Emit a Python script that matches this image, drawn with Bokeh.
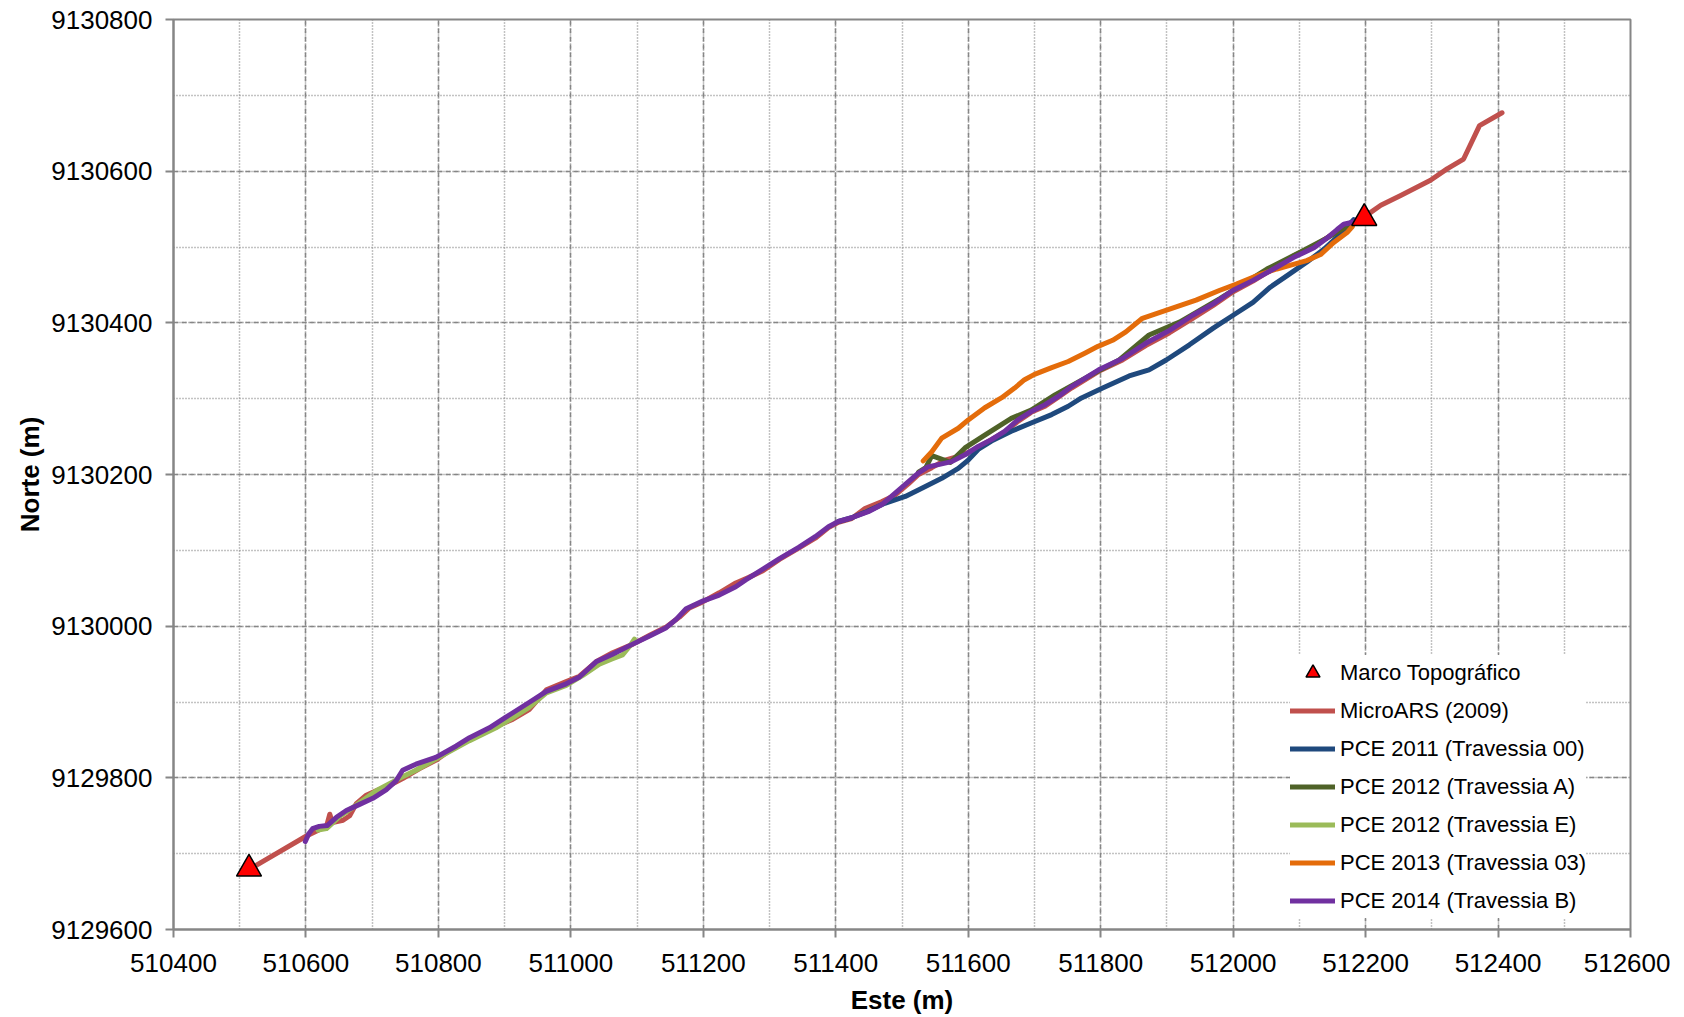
from bokeh.plotting import figure
from bokeh.models import (Range1d, SingleIntervalTicker, BasicTickFormatter,
                          Legend, LegendItem)
from bokeh.embed import file_html
from bokeh.resources import INLINE

# ---------------- data ----------------
marco_e = [510514, 512198]
marco_n = [9129680, 9130538]

microars_e = [510514, 510600, 510631, 510636, 510640, 510656, 510666, 510676, 510691, 510706,
              510726, 510746, 510771, 510796, 510817, 510847, 510882, 510912, 510937, 510963,
              510993, 511013, 511038, 511063, 511093, 511119, 511144, 511164, 511179, 511199,
              511224, 511249, 511268, 511290, 511315, 511344, 511369, 511389, 511404, 511424,
              511444, 511469, 511490, 511510, 511525, 511545, 511565, 511585, 511605, 511625,
              511655, 511675, 511695, 511716, 511736, 511756, 511797, 511833, 511868, 511904,
              511939, 511970, 512000, 512030, 512061, 512091, 512122, 512152, 512180, 512205,
              512223, 512253, 512298, 512323, 512348, 512372, 512406]
microars_n = [9129679, 9129723, 9129736, 9129752, 9129741, 9129744, 9129750, 9129766, 9129777, 9129783,
              9129790, 9129799, 9129812, 9129823, 9129836, 9129851, 9129866, 9129877, 9129890, 9129916,
              9129927, 9129934, 9129953, 9129965, 9129976, 9129988, 9129999, 9130012, 9130024, 9130032,
              9130044, 9130057, 9130064, 9130073, 9130088, 9130103, 9130116, 9130130, 9130137, 9130142,
              9130155, 9130164, 9130173, 9130188, 9130200, 9130209, 9130219, 9130224, 9130231, 9130241,
              9130256, 9130270, 9130282, 9130290, 9130302, 9130314, 9130336, 9130351, 9130370, 9130387,
              9130406, 9130423, 9130441, 9130455, 9130472, 9130488, 9130501, 9130518, 9130533, 9130544,
              9130555, 9130568, 9130588, 9130603, 9130616, 9130660, 9130677]

pce2011_e = [511404, 511424, 511444, 511474, 511505, 511530, 511560, 511585, 511600, 511615,
             511635, 511665, 511695, 511726, 511751, 511771, 511803, 511843, 511873, 511899,
             511934, 511970, 512000, 512030, 512056, 512081, 512111, 512137, 512162, 512182]
pce2011_n = [9130138, 9130143, 9130150, 9130162, 9130171, 9130182, 9130195, 9130208, 9130219, 9130233,
             9130244, 9130257, 9130268, 9130279, 9130290, 9130301, 9130314, 9130330, 9130338, 9130351,
             9130371, 9130393, 9130410, 9130427, 9130447, 9130462, 9130480, 9130497, 9130517, 9130536]

pce2012a_e = [511525, 511536, 511545, 511573, 511595, 511625, 511665, 511695, 511731, 511791,
              511828, 511873, 511919, 511980, 512051, 512101, 512142, 512177]
pce2012a_n = [9130203, 9130209, 9130225, 9130216, 9130235, 9130252, 9130274, 9130285, 9130305, 9130334,
              9130351, 9130384, 9130401, 9130432, 9130471, 9130493, 9130512, 9130530]

pce2012e_e = [510618, 510631, 510651, 510676, 510706, 510736, 510766, 510807, 510847, 510887,
              510912, 510937, 510963, 510993, 511018, 511043, 511063, 511078, 511090, 511096]
pce2012e_n = [9129731, 9129733, 9129749, 9129764, 9129783, 9129797, 9129810, 9129830, 9129849, 9129866,
              9129879, 9129893, 9129912, 9129922, 9129935, 9129950, 9129957, 9129962, 9129975, 9129983]

pce2013_e = [511532, 511545, 511560, 511585, 511600, 511625, 511650, 511670, 511685, 511700,
             511726, 511751, 511776, 511796, 511818, 511838, 511863, 511884, 511914, 511944,
             511980, 512005, 512041, 512066, 512091, 512111, 512132, 512152, 512172, 512180]
pce2013_n = [9130218, 9130230, 9130248, 9130261, 9130272, 9130288, 9130301, 9130314, 9130325, 9130332,
             9130341, 9130349, 9130360, 9130369, 9130377, 9130388, 9130406, 9130412, 9130421, 9130430,
             9130443, 9130451, 9130464, 9130471, 9130477, 9130482, 9130490, 9130506, 9130519, 9130527]

pce2014_e = [510599, 510604, 510610, 510620, 510632, 510646, 510661, 510681, 510701, 510721,
             510736, 510746, 510766, 510796, 510827, 510847, 510877, 510902, 510938, 510963,
             510993, 511013, 511038, 511063, 511088, 511119, 511144, 511159, 511174, 511199,
             511224, 511249, 511264, 511284, 511315, 511344, 511369, 511389, 511404, 511424,
             511449, 511469, 511484, 511505, 511525, 511539, 511555, 511575, 511595, 511615,
             511635, 511655, 511675, 511695, 511716, 511736, 511756, 511797, 511833, 511868,
             511904, 511939, 511970, 512000, 512030, 512061, 512091, 512122, 512142, 512157,
             512167, 512182, 512190]
pce2014_n = [9129716, 9129726, 9129733, 9129736, 9129737, 9129748, 9129757, 9129765, 9129773, 9129784,
             9129796, 9129810, 9129818, 9129827, 9129842, 9129853, 9129866, 9129880, 9129900, 9129914,
             9129924, 9129933, 9129953, 9129963, 9129974, 9129987, 9129998, 9130009, 9130023, 9130033,
             9130041, 9130052, 9130061, 9130072, 9130089, 9130104, 9130118, 9130131, 9130138, 9130143,
             9130151, 9130160, 9130171, 9130187, 9130202, 9130210, 9130213, 9130217, 9130226, 9130237,
             9130246, 9130257, 9130272, 9130283, 9130292, 9130303, 9130316, 9130338, 9130353, 9130373,
             9130390, 9130410, 9130425, 9130443, 9130456, 9130471, 9130486, 9130499, 9130512, 9130523,
             9130530, 9130533, 9130537]

series_labels = ["MicroARS (2009)", "PCE 2011 (Travessia 00)", "PCE 2012 (Travessia A)",
                 "PCE 2012 (Travessia E)", "PCE 2013 (Travessia 03)", "PCE 2014 (Travessia B)"]
series_colors = ["#C0504D", "#1F497D", "#4F6228", "#9BBB59", "#E46C0A", "#7030A0"]
marco_label = "Marco Topográfico"

x_title = "Este (m)"
y_title = "Norte (m)"

FONT = "Liberation Sans"
GRID = "#868686"

# ---------------- figure ----------------
p = figure(frame_width=1457, frame_height=910,
           min_border_left=173, min_border_right=40, min_border_top=19, min_border_bottom=80,
           x_range=Range1d(510400, 512600), y_range=Range1d(9129600, 9130800),
           output_backend="svg", toolbar_location=None, tools="")
p.background_fill_color = "white"
p.border_fill_color = "white"
p.outline_line_color = GRID
p.outline_line_width = 2

for ax in (p.xaxis[0], p.yaxis[0]):
    ax.ticker = SingleIntervalTicker(interval=200, num_minor_ticks=2)
    ax.formatter = BasicTickFormatter(use_scientific=False)
    ax.axis_line_color = GRID
    ax.axis_line_width = 2
    ax.major_tick_line_color = GRID
    ax.major_tick_line_width = 2
    ax.major_tick_out = 8
    ax.major_tick_in = 0
    ax.minor_tick_line_color = None
    ax.major_label_text_font = FONT
    ax.major_label_text_font_size = "26px"
    ax.major_label_text_color = "black"
    ax.axis_label_text_font = FONT
    ax.axis_label_text_font_size = "26px"
    ax.axis_label_text_font_style = "bold"
    ax.axis_label_text_color = "black"

p.xaxis.axis_label = x_title
p.yaxis.axis_label = y_title
p.xaxis.major_label_standoff = 16
p.xaxis.axis_label_standoff = 10
p.yaxis.major_label_standoff = 13
p.yaxis.axis_label_standoff = 3

for g in (p.xgrid[0], p.ygrid[0]):
    g.grid_line_color = GRID
    g.grid_line_width = 1.5
    g.grid_line_dash = "5 3"
    g.minor_grid_line_color = GRID
    g.minor_grid_line_width = 1.5
    g.minor_grid_line_dash = "1 2"

# ---------------- lines ----------------
series = [(microars_e, microars_n), (pce2011_e, pce2011_n), (pce2012a_e, pce2012a_n),
          (pce2012e_e, pce2012e_n), (pce2013_e, pce2013_n), (pce2014_e, pce2014_n)]
renderers = []
for (xs, ys), col in zip(series, series_colors):
    r = p.line(xs, ys, line_color=col, line_width=5, line_join="round", line_cap="round")
    renderers.append(r)

mk = p.scatter(marco_e, marco_n, marker="triangle", size=25,
               fill_color="#FF0000", line_color="black", line_width=1.5)

items = [LegendItem(label=marco_label, renderers=[mk])]
for lab, r in zip(series_labels, renderers):
    items.append(LegendItem(label=lab, renderers=[r]))

legend = Legend(items=items, location=(1117, 11))
legend.label_text_font = FONT
legend.label_text_font_size = "22px"
legend.label_text_color = "black"
legend.glyph_width = 45
legend.glyph_height = 35
legend.spacing = 3
legend.label_standoff = 5
legend.padding = 10
legend.margin = 0
legend.border_line_color = None
legend.background_fill_color = "white"
legend.background_fill_alpha = 1.0
p.add_layout(legend)

open("out.html", "w").write(file_html(p, INLINE))
